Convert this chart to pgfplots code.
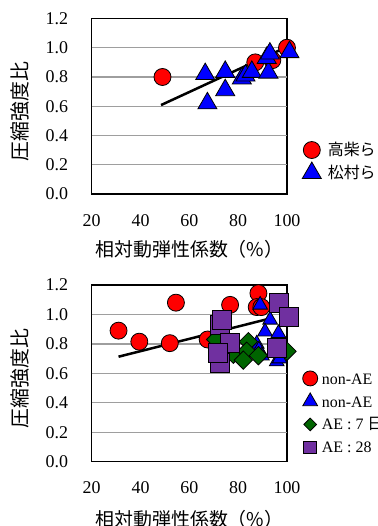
\documentclass[border=0pt]{standalone}
\usepackage{fontspec}
\setmainfont{Liberation Serif}
\newfontfamily\cjk{Noto Sans CJK JP}
\usepackage{pgfplots}
\pgfplotsset{compat=1.18}
\definecolor{mypurple}{HTML}{7030A0}
\definecolor{mygreen}{HTML}{006400}
\definecolor{gridgray}{HTML}{9E9E9E}
\pgfplotsset{mystyle/.style={
  scale only axis, width=195.3bp,
  xmin=20, xmax=100, ymin=0, ymax=1.2,
  xtick={20,40,60,80,100}, ytick={0,0.2,0.4,0.6,0.8,1.0,1.2},
  scaled ticks=false,
  major tick length=0pt, tick style={draw=none},
  axis line style={line width=1.3bp},
  tick label style={font=\fontsize{18}{20}\selectfont},
  /pgf/number format/assume math mode=true,
  yticklabel style={/pgf/number format/.cd, fixed, fixed zerofill, precision=1, /tikz/.cd, anchor=east, inner sep=0pt},
  yticklabel shift=23.5bp,
  xticklabel style={anchor=north, inner sep=0pt},
  xticklabel shift=20bp,
  clip=false,
  xlabel={\cjk 相対動弾性係数（\%）},
  ylabel={\cjk 圧縮強度比},
  xlabel style={font=\fontsize{19}{20}\selectfont, anchor=center},
  ylabel style={font=\fontsize{20}{22}\selectfont, anchor=center, at={([xshift=-71.7bp]axis description cs:0,0.47)}},
  legend cell align=left,
}}
\begin{document}
\begin{tikzpicture}
\path[use as bounding box] (0,0) rectangle (378bp,526bp);
% ---------- top chart ----------
\begin{axis}[mystyle, height=175.5bp, at={(91.7bp,332bp)}, anchor=south west,
  xlabel style={at={([yshift=-55bp]axis description cs:0.5,0)}},
  legend style={at={(1.08,0.185)}, anchor=west, draw=none, fill=none, inner sep=0pt,
    row sep=5bp, nodes={inner sep=0pt, font=\cjk\fontsize{16}{18}\selectfont}},
  legend image code/.code={%
    \begin{pgfinterruptboundingbox}\draw[mark repeat=2,mark phase=2] plot coordinates {(0bp,0bp)(9bp,0bp)(18bp,0bp)};\end{pgfinterruptboundingbox}%
    \path[draw=none,fill=none] (0bp,-9bp) rectangle (25bp,9bp);},
]
% horizontal grid lines
\addplot[gridgray, line width=1.3bp, forget plot] coordinates {(20,0.2) (100,0.2)};
\addplot[gridgray, line width=1.3bp, forget plot] coordinates {(20,0.4) (100,0.4)};
\addplot[gridgray, line width=1.3bp, forget plot] coordinates {(20,0.6) (100,0.6)};
\addplot[gridgray, line width=1.3bp, forget plot] coordinates {(20,0.8) (100,0.8)};
\addplot[gridgray, line width=1.3bp, forget plot] coordinates {(20,1.0) (100,1.0)};
\addplot[only marks, mark=*, mark size=8.5bp, mark options={fill=red, draw=black, line width=0.8bp}]
  coordinates {(49,0.80) (87,0.90) (94,0.915) (100,1.0)};
\addlegendentry{高柴ら}
\addplot[only marks, mark=triangle*, mark size=11bp, mark options={fill=blue, draw=black, line width=0.8bp}]
  coordinates {(66.5,0.82) (67.4,0.62) (74.7,0.835) (74.7,0.71) (81.5,0.79) (83,0.81) (85.6,0.835) (92.4,0.83) (91.7,0.93) (93,0.96) (101,0.97)};
\addlegendentry{松村ら}
\addplot[black, line width=2.5bp, no markers, forget plot] coordinates {(48.4,0.608) (100,1.006)};
\end{axis}
% ---------- bottom chart ----------
\begin{axis}[mystyle, height=176.7bp, at={(91.7bp,64.3bp)}, anchor=south west,
  xlabel style={at={([yshift=-58bp]axis description cs:0.5,0)}},
  legend style={at={(1.0717,0.276)}, anchor=west, draw=none, fill=none, inner sep=0pt,
    row sep=5bp, nodes={inner sep=0pt, font=\fontsize{16}{18}\selectfont}},
  legend image code/.code={%
    \begin{pgfinterruptboundingbox}\draw[mark repeat=2,mark phase=2] plot coordinates {(0bp,0bp)(9bp,0bp)(18bp,0bp)};\end{pgfinterruptboundingbox}%
    \path[draw=none,fill=none] (0bp,-9bp) rectangle (20.7bp,9bp);},
]
\addlegendimage{only marks, mark=*, mark size=7.5bp, mark options={fill=red, draw=black, line width=0.8bp}}
\addlegendentry{non-AE {\cjk ：高柴ら}}
\addlegendimage{only marks, mark=triangle*, mark size=8.5bp, mark options={fill=blue, draw=black, line width=0.8bp}}
\addlegendentry{non-AE {\cjk ：松村ら}}
\addlegendimage{only marks, mark=square*, mark size=4.5bp, mark options={rotate=45, fill=mygreen, draw=black, line width=0.8bp}}
\addlegendentry{AE : 7 {\cjk 日}}
\addlegendimage{only marks, mark=square*, mark size=6.3bp, mark options={fill=mypurple, draw=black, line width=0.8bp}}
\addlegendentry{AE : 28 {\cjk 日}}
% horizontal grid lines
\addplot[gridgray, line width=1.3bp, forget plot] coordinates {(20,0.2) (100,0.2)};
\addplot[gridgray, line width=1.3bp, forget plot] coordinates {(20,0.4) (100,0.4)};
\addplot[gridgray, line width=1.3bp, forget plot] coordinates {(20,0.6) (100,0.6)};
\addplot[gridgray, line width=1.3bp, forget plot] coordinates {(20,0.8) (100,0.8)};
\addplot[gridgray, line width=1.3bp, forget plot] coordinates {(20,1.0) (100,1.0)};
\addplot[only marks, forget plot, mark=*, mark size=8.5bp, mark options={fill=red, draw=black, line width=0.8bp}]
  coordinates {(31,0.89) (39.5,0.815) (52,0.805) (54.5,1.08) (67.5,0.83) (76.7,1.065) (88.3,1.144) (87.6,1.05) (89.5,1.05)};
\addplot[black, line width=2.5bp, no markers, forget plot] coordinates {(31,0.713) (91.7,0.967)};
\addplot[only marks, forget plot, mark=triangle*, mark size=8.5bp, mark options={fill=blue, draw=black, line width=0.8bp}]
  coordinates {(89,1.065) (93.1,0.963) (91,0.883) (96.5,0.872) (87.6,0.80) (88.5,0.76) (95.8,0.68) (89.7,0.72) (97,0.70)};
\addplot[only marks, forget plot, mark=square*, mark size=6.5bp, mark options={rotate=45, fill=mygreen, draw=black, line width=0.8bp}]
  coordinates {(70.8,0.83) (78,0.73) (84.2,0.815) (83.5,0.75) (82.1,0.69) (88.3,0.72) (100,0.75)};
\addplot[only marks, forget plot, mark=square*, mark size=9.5bp, mark options={fill=mypurple, draw=black, line width=0.8bp}]
  coordinates {(72.6,0.93) (73.3,0.963) (76.7,0.804) (72.6,0.67) (71.9,0.736) (96.5,1.076) (100.6,0.985) (95.8,0.77)};
\end{axis}
\end{tikzpicture}
\end{document}
